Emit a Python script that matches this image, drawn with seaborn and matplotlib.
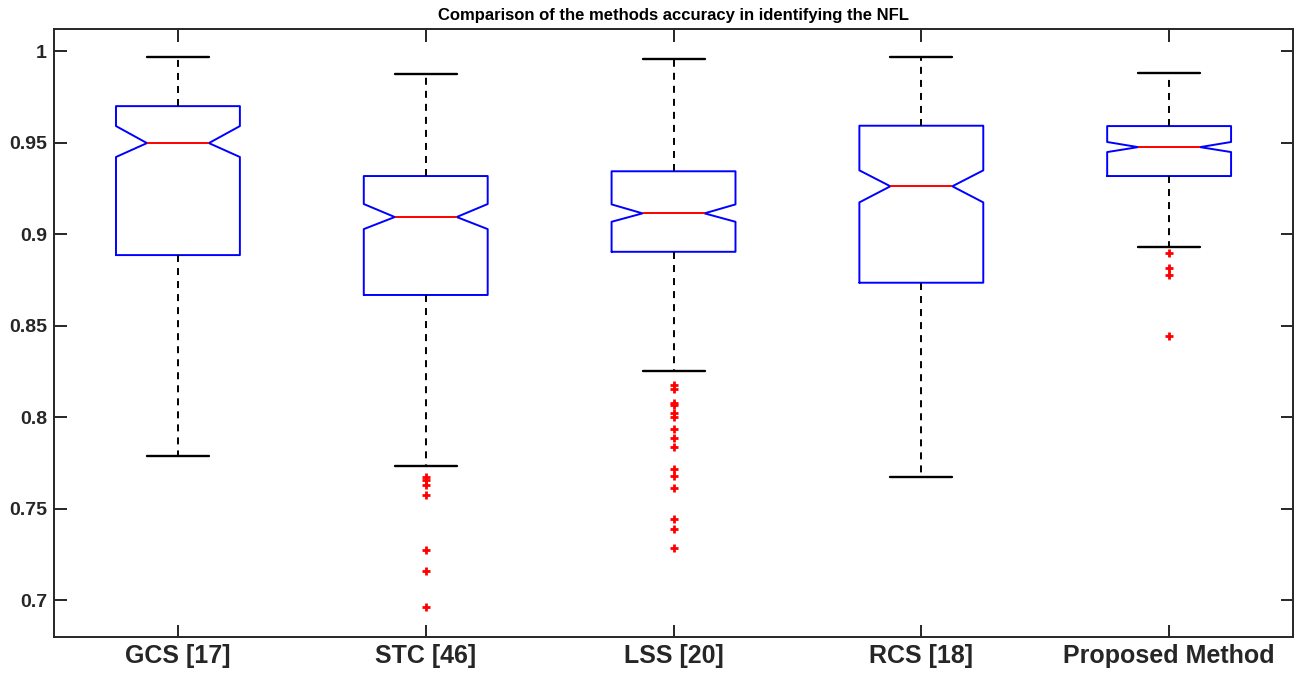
import matplotlib
matplotlib.use("Agg")
import matplotlib.pyplot as plt
import seaborn as sns

sns.set_theme(style="white")
plt.rcParams['font.family'] = ['Liberation Sans', 'DejaVu Sans']

# Box statistics
methods = ["GCS [17]", "STC [46]", "LSS [20]", "RCS [18]", "Proposed Method"]
whis_hi = [0.9967, 0.9874, 0.9956, 0.9967, 0.9880]
q3 = [0.9699, 0.9317, 0.9343, 0.9592, 0.9590]
notch_hi = [0.9590, 0.9164, 0.9162, 0.9348, 0.9503]
median = [0.9497, 0.9093, 0.9113, 0.9261, 0.9475]
notch_lo = [0.9421, 0.9027, 0.9067, 0.9173, 0.9448]
q1 = [0.8885, 0.8667, 0.8903, 0.8734, 0.9317]
whis_lo = [0.7787, 0.7732, 0.8251, 0.7672, 0.8929]
outliers = [
    [],
    [0.7672, 0.7655, 0.7628, 0.7574, 0.7273, 0.7158, 0.6960],
    [0.8175, 0.8151, 0.8075, 0.8065, 0.8020, 0.7998, 0.7934, 0.7884, 0.7834,
     0.7716, 0.7678, 0.7610, 0.7441, 0.7390, 0.7286],
    [],
    [0.8896, 0.8814, 0.8776, 0.8443],
]
yticks = [0.7, 0.75, 0.8, 0.85, 0.9, 0.95, 1]
ytick_labels = ["0.7", "0.75", "0.8", "0.85", "0.9", "0.95", "1"]

stats = []
for i, name in enumerate(methods):
    stats.append(dict(label=name, med=median[i], q1=q1[i], q3=q3[i],
                      cilo=notch_lo[i], cihi=notch_hi[i],
                      whislo=whis_lo[i], whishi=whis_hi[i],
                      fliers=outliers[i]))

fig = plt.figure(figsize=(12.99, 6.73), dpi=100)
ax = fig.add_axes([0.0416, 0.0535, 0.9538, 0.903])

ink = '#262626'
ax.bxp(stats, positions=range(1, 6), widths=0.5, shownotches=True,
       boxprops=dict(color='#0000ff', linewidth=1.4),
       medianprops=dict(color='#ff0000', linewidth=1.4),
       whiskerprops=dict(color='black', linewidth=1.4, linestyle=(0, (3.6, 3.1))),
       capprops=dict(color='black', linewidth=1.7),
       flierprops=dict(marker='+', markeredgecolor='#ff0000', markersize=6,
                       markeredgewidth=2, linestyle='none'))

ax.set_xlim(0.5, 5.5)
ax.set_ylim(0.6798, 1.0119)
ax.set_yticks(yticks)
ax.set_yticklabels(ytick_labels)
ax.set_xticks(range(1, 6))
ax.set_xticklabels(methods)

ax.tick_params(axis='both', direction='in', length=9, width=1.4, color=ink,
               top=True, right=True, left=True, bottom=True, pad=5)
ax.tick_params(axis='x', labelsize=18)
ax.tick_params(axis='y', labelsize=14)
for lab in ax.get_xticklabels() + ax.get_yticklabels():
    lab.set_fontweight('bold')
    lab.set_color(ink)
for sp in ax.spines.values():
    sp.set_visible(True)
    sp.set_color(ink)
    sp.set_linewidth(1.4)

ax.set_title("Comparison of the methods accuracy in identifying the NFL",
             fontsize=12, fontweight='bold', color='black', pad=7)

fig.savefig("out.png", dpi=100, facecolor='white')
